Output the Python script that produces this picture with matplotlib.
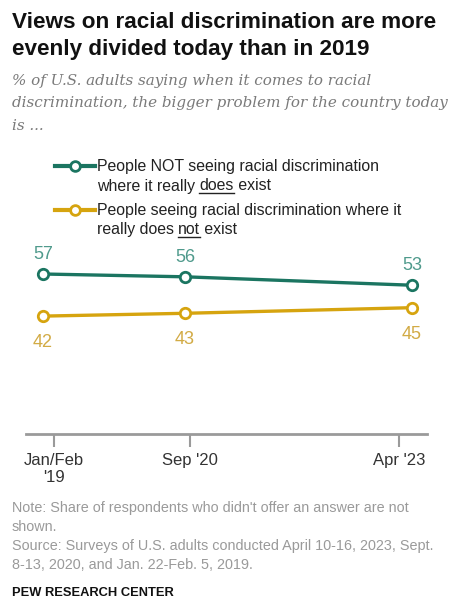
import matplotlib
matplotlib.use("Agg")
import matplotlib.pyplot as plt

# ===== data =====
survey_x = [2019.08, 2020.70, 2023.29]          # survey dates (decimal years)
not_seeing = [57, 56, 53]
seeing_not_exist = [42, 43, 45]
tick_pos = [2019.20, 2020.76, 2023.14]
tick_labels = ["Jan/Feb\n'19", "Sep '20", "Apr '23"]

subtitle = ["% of U.S. adults saying when it comes to racial",
            "discrimination, the bigger problem for the country today",
            "is ..."]
notes = ["Note: Share of respondents who didn't offer an answer are not",
         "shown.",
         "Source: Surveys of U.S. adults conducted April 10-16, 2023, Sept.",
         "8-13, 2020, and Jan. 22-Feb. 5, 2019."]
# ================

GREEN = "#1b7561"
GREEN_LBL = "#4f9a8c"
GOLD = "#d6a40f"
GOLD_LBL = "#d2ab45"
W, H = 460, 612
LEG_FS = 11.4

plt.rcParams["font.family"] = "Liberation Sans"


def fx(x):
    return x / W


def fy(y):
    return 1 - y / H


fig = plt.figure(figsize=(W / 100, H / 100), dpi=100)

# title / subtitle
fig.text(fx(12), fy(28), "Views on racial discrimination are more",
         fontsize=16.2, fontweight="bold", color="#111111", va="baseline")
fig.text(fx(12), fy(55.5), "evenly divided today than in 2019",
         fontsize=16.2, fontweight="bold", color="#111111", va="baseline")
for i, line in enumerate(subtitle):
    fig.text(fx(12), fy(85 + 22.5 * i), line, fontsize=10.9, family="DejaVu Serif",
             style="italic", color="#7a7a7a", va="baseline")

# chart
ax = fig.add_axes([fx(26), fy(434), (427 - 26) / W, 280.7 / H])
ax.set_ylim(0, 100)
ax.set_xlim(2019.08 - 17 / 87.6, 2023.29 + 15 / 87.6)
for vals, col in ((not_seeing, GREEN), (seeing_not_exist, GOLD)):
    ax.plot(survey_x, vals, color=col, lw=2.4, marker="o", ms=7.5,
            mfc="white", mec=col, mew=2, zorder=3, clip_on=False)
for x, v in zip(survey_x, not_seeing):
    ax.annotate(str(v), (x, v), xytext=(0, 14), textcoords="offset points",
                ha="center", va="center", fontsize=13, color=GREEN_LBL)
for x, v in zip(survey_x, seeing_not_exist):
    ax.annotate(str(v), (x, v), xytext=(0, -19), textcoords="offset points",
                ha="center", va="center", fontsize=13, color=GOLD_LBL)

for s in ("top", "right", "left"):
    ax.spines[s].set_visible(False)
ax.spines["bottom"].set_color("#9a9a9a")
ax.spines["bottom"].set_linewidth(2)
ax.set_yticks([])
ax.set_xticks(tick_pos)
ax.set_xticklabels(tick_labels, fontsize=12, color="#333333", linespacing=1.15)
ax.tick_params(axis="x", length=9, width=1.5, color="#9a9a9a", pad=5)

# legend
renderer = fig.canvas.get_renderer()


def legend_entry(y1, y2, col, line1, pre, word, post):
    fig.add_artist(plt.Line2D([fx(55), fx(95)], [fy(y1 - 5), fy(y1 - 5)], color=col,
                              lw=3, zorder=3))
    fig.add_artist(plt.Line2D([fx(75)], [fy(y1 - 5)], color=col, marker="o", ms=7,
                              mfc="white", mec=col, mew=2, zorder=4))
    fig.text(fx(97), fy(y1), line1, fontsize=LEG_FS, color="#222222", va="baseline")
    t_pre = fig.text(fx(97), fy(y2), pre, fontsize=LEG_FS, color="#222222", va="baseline")
    x0 = t_pre.get_window_extent(renderer).x1
    t_word = fig.text(x0 / W, fy(y2), word, fontsize=LEG_FS, color="#222222", va="baseline")
    x1 = t_word.get_window_extent(renderer).x1
    fig.text(x1 / W, fy(y2), post, fontsize=LEG_FS, color="#222222", va="baseline")
    # underline the stressed word
    fig.add_artist(plt.Line2D([x0 / W, x1 / W], [fy(y2 + 2.5), fy(y2 + 2.5)],
                              color="#222222", lw=1))


legend_entry(171.5, 190.5, GREEN, "People NOT seeing racial discrimination",
             "where it really ", "does", " exist")
legend_entry(215, 234, GOLD, "People seeing racial discrimination where it",
             "really does ", "not", " exist")

# notes
for i, line in enumerate(notes):
    fig.text(fx(12), fy(512 + 19 * i), line, fontsize=10.4, color="#9a9a9a", va="baseline")
fig.text(fx(12), fy(596), "PEW RESEARCH CENTER", fontsize=9.3, fontweight="bold",
         color="#111111", va="baseline")

fig.savefig("out.png", dpi=100)
